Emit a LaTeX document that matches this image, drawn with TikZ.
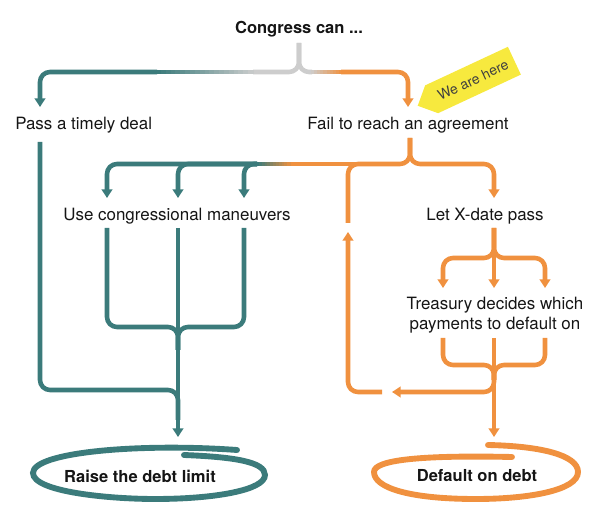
\documentclass[tikz,border=0pt]{standalone}
\usepackage{fontspec}
\setmainfont{TeX Gyre Heros}
\usetikzlibrary{arrows.meta,shapes.symbols}
\definecolor{tealc}{HTML}{3B7B7B}
\definecolor{orangec}{HTML}{F0913F}
\definecolor{grayc}{HTML}{CDCDCD}
\definecolor{tagc}{HTML}{F7E93E}
\definecolor{txt}{HTML}{151515}
\begin{document}
\begin{tikzpicture}[x=0.75pt,y=-0.75pt,
  flow/.style={line width=3.4pt, rounded corners=7.5pt},
  tarrow/.style={-{Triangle[width=8pt,length=6.5pt]}},
  lbl/.style={font=\fontsize{12.7}{15}\selectfont, text=txt, inner sep=0pt},
  blbl/.style={font=\fontsize{12.4}{15}\selectfont\bfseries, text=txt, inner sep=0pt},
  loopline/.style={line width=4.4pt, line cap=round},
]
\useasboundingbox (0,0) rectangle (610,523);

% texts
\node[blbl] (congress) at (299,29) {Congress can ...};
\node[lbl, anchor=west] (pass) at (15,125) {Pass a timely deal};
\node[lbl] (fail) at (408,125) {Fail to reach an agreement};
\node[lbl] (use) at (177,216) {Use congressional maneuvers};
\node[lbl] (letx) at (485,216) {Let X-date pass};
\node[lbl, align=center] (treas) at (495,315) {Treasury decides which\\payments to default on};
\node[blbl] (raise) at (140,476) {Raise the debt limit};
\node[blbl] (default) at (477,476) {Default on debt};
\node[signal, signal to=west, fill=tagc, rotate=25, minimum width=80pt, minimum height=23pt, inner sep=2pt,
      font=\fontsize{10.5}{12}\selectfont, text=black!75] (tag) at (473,80) {We are here};

% top brace
\draw[grayc, flow] (299,43) -- (299,72) -- (253,72);
\draw[grayc, flow] (299,43) -- (299,72) -- (312,72);
\foreach \i in {0,...,19} {
  \pgfmathsetmacro\xa{156+\i*97/20}
  \pgfmathsetmacro\xb{156+(\i+1)*97/20+0.6}
  \pgfmathsetmacro\p{100-\i*5}
  \draw[line width=3.4pt, color=tealc!\p!grayc] (\xa,72) -- (\xb,72);
}
\foreach \i in {0,...,9} {
  \pgfmathsetmacro\xa{311+\i*31/10}
  \pgfmathsetmacro\xb{311+(\i+1)*31/10+0.6}
  \pgfmathsetmacro\p{\i*10+5}
  \draw[line width=3.4pt, color=orangec!\p!grayc] (\xa,72) -- (\xb,72);
}
\draw[tealc, flow, tarrow] (157,72) -- (40,72) -- (40,107);
\draw[orangec, flow, tarrow] (341,72) -- (408,72) -- (408,107);

% pass a timely deal -> raise
\draw[tealc, flow] (40,142) -- (40,390) -- (178,390) -- (178,420);

% second brace
\draw[orangec, flow, tarrow] (410,138) -- (410,164) -- (494,164) -- (494,198);
\draw[orangec, flow] (410,138) -- (410,164) -- (348,164) -- (348,223);
\draw[orangec, line width=3.4pt] (360,164) -- (289,164);
\foreach \i in {0,...,11} {
  \pgfmathsetmacro\xa{256+\i*34/12}
  \pgfmathsetmacro\xb{256+(\i+1)*34/12+0.6}
  \pgfmathsetmacro\p{100-\i*8.3}
  \draw[line width=3.4pt, color=tealc!\p!orangec] (\xa,164) -- (\xb,164);
}
\draw[tealc, flow, tarrow] (257,164) -- (107,164) -- (107,198);
\draw[tealc, flow, tarrow] (257,164) -- (178,164) -- (178,198);
\draw[tealc, flow, tarrow] (257,164) -- (244,164) -- (244,198);

% lower teal
\draw[tealc, flow] (107,228) -- (107,327) -- (178,327) -- (178,350);
\draw[tealc, flow] (244,228) -- (244,327) -- (178,327) -- (178,350);
\draw[tealc, flow, tarrow] (178,228) -- (178,437);

% lower orange
\draw[orangec, flow, tarrow] (494,228) -- (494,258) -- (443,258) -- (443,288);
\draw[orangec, flow, tarrow] (494,228) -- (494,258) -- (545,258) -- (545,288);
\draw[orangec, flow, tarrow] (494,228) -- (494,288);
\draw[orangec, flow] (443,338) -- (443,365) -- (494,365) -- (494,380);
\draw[orangec, flow] (545,338) -- (545,365) -- (494,365) -- (494,380);
\draw[orangec, flow, tarrow] (494,338) -- (494,437);
\draw[orangec, flow, tarrow] (494,370) -- (494,392) -- (392,392);
\draw[orangec, flow, tarrow] (382,392) -- (348,392) -- (348,232);

% hand-drawn loops
\draw[tealc, loopline] (237,450) .. controls (140,443) and (33,452) .. (33,473)
  .. controls (33,492) and (110,499) .. (155,499)
  .. controls (215,499) and (265,490) .. (265,475)
  .. controls (265,462) and (235,457) .. (184,455);
\draw[orangec, loopline] (488,445) .. controls (540,446) and (578,455) .. (578,472)
  .. controls (578,490) and (530,499) .. (476,499)
  .. controls (410,499) and (374,488) .. (374,472)
  .. controls (374,460) and (420,455) .. (512,457);
\end{tikzpicture}
\end{document}
